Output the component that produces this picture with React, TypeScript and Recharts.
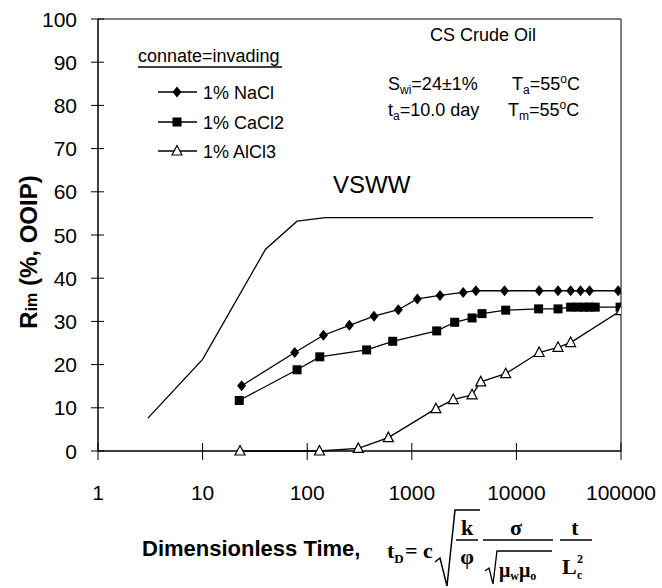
import { LineChart, Line, XAxis, YAxis, ReferenceArea } from "recharts";

const xTicks = [1, 10, 100, 1000, 10000, 100000];
const yTicks = [0, 10, 20, 30, 40, 50, 60, 70, 80, 90, 100];

const vswwTime = [3, 10, 40, 80, 150, 54000];
const vswwRim = [7.6, 21.2, 46.7, 53.2, 54, 54];

const naclTime = [23.6, 76, 143, 253, 435, 743, 1130, 1860, 3100, 4100, 7700, 16500, 25000, 33000, 41000, 50000, 94000];
const naclRim = [15.1, 22.8, 26.8, 29.1, 31.2, 32.7, 35.2, 36.0, 36.7, 37.1, 37.1, 37.1, 37.1, 37.1, 37.1, 37.1, 37.1];

const caclTime = [22.4, 80, 132, 370, 657, 1730, 2570, 3770, 4690, 7900, 16300, 25000, 33000, 38500, 44300, 49800, 56700, 98000];
const caclRim = [11.7, 18.8, 21.8, 23.4, 25.4, 27.8, 29.8, 30.8, 31.8, 32.6, 32.9, 32.9, 33.3, 33.3, 33.3, 33.3, 33.3, 33.3];

const alclTime = [22.8, 131, 308, 597, 1700, 2490, 3770, 4560, 7900, 16500, 25000, 33000, 100000];
const alclRim = [0, 0, 0.6, 3.1, 9.8, 11.9, 13.0, 16.0, 17.9, 22.8, 24.0, 25.1, 32.5];

const zip = (ts: number[], rs: number[]) => ts.map((t, i) => ({ t, r: rs[i] }));

const vsww = zip(vswwTime, vswwRim);
const nacl = zip(naclTime, naclRim);
const cacl = zip(caclTime, caclRim);
const alcl = zip(alclTime, alclRim);

const SANS = "'Liberation Sans', Arial, sans-serif";
const SERIF = "'Liberation Serif', 'Times New Roman', serif";

const Diamond = ({ cx, cy }: any) => (
  <path d={`M${cx},${cy - 5.5}L${cx + 4.5},${cy}L${cx},${cy + 5.5}L${cx - 4.5},${cy}Z`} fill="#000" />
);
const Square = ({ cx, cy }: any) => <rect x={cx - 4.5} y={cy - 4.5} width={9} height={9} fill="#000" />;
const Triangle = ({ cx, cy }: any) => (
  <path d={`M${cx},${cy - 5.5}L${cx + 5},${cy + 4}L${cx - 5},${cy + 4}Z`} fill="#fff" stroke="#000" strokeWidth={1.2} />
);

const XTick = ({ x, y, payload }: any) => (
  <g>
    <line x1={x} x2={x} y1={y - 8} y2={y + 9} stroke="#000" />
    <text x={x} y={y + 49} textAnchor="middle" fontSize={21} fontFamily={SANS} fill="#000">
      {payload.value}
    </text>
  </g>
);

const YTick = ({ x, y, payload }: any) => (
  <g>
    <line x1={x - 7} x2={x + 6} y1={y} y2={y} stroke="#000" />
    <text x={x - 21} y={y + 7.5} textAnchor="end" fontSize={21} fontFamily={SANS} fill="#000">
      {payload.value}
    </text>
  </g>
);

const legendRows = [
  { name: "1% NaCl", y: 92, Shape: Diamond },
  { name: "1% CaCl2", y: 122, Shape: Square },
  { name: "1% AlCl3", y: 151, Shape: Triangle },
];

function Annotations() {
  return (
    <svg width={662} height={588} style={{ position: "absolute", left: 0, top: 0, pointerEvents: "none" }}>
      <g fontFamily={SANS} fill="#000">
        <text x={138} y={62} fontSize={18}>connate=invading</text>
        <line x1={138} x2={282} y1={67} y2={67} stroke="#000" strokeWidth={1.5} />
        {legendRows.map(({ name, y, Shape }) => (
          <g key={name}>
            <line x1={158} x2={197} y1={y} y2={y} stroke="#000" strokeWidth={1.3} />
            <Shape cx={177} cy={y} />
            <text x={203} y={y + 6.5} fontSize={18}>{name}</text>
          </g>
        ))}

        <text x={483} y={41} fontSize={18} textAnchor="middle">CS Crude Oil</text>
        <text x={388} y={90} fontSize={18}>
          S<tspan fontSize={12} dy={4}>wi</tspan><tspan dy={-4}>=24±1%</tspan>
        </text>
        <text x={512} y={90} fontSize={18}>
          T<tspan fontSize={12} dy={4}>a</tspan><tspan dy={-4}>=55</tspan><tspan fontSize={12} dy={-7}>o</tspan><tspan dy={7}>C</tspan>
        </text>
        <text x={388} y={116} fontSize={18}>
          t<tspan fontSize={12} dy={4}>a</tspan><tspan dy={-4}>=10.0 day</tspan>
        </text>
        <text x={508} y={116} fontSize={18}>
          T<tspan fontSize={12} dy={4}>m</tspan><tspan dy={-4}>=55</tspan><tspan fontSize={12} dy={-7}>o</tspan><tspan dy={7}>C</tspan>
        </text>

        <text x={333} y={193} fontSize={24}>VSWW</text>

        <text transform="translate(37,252) rotate(-90)" textAnchor="middle" fontSize={24} fontWeight="bold">
          R<tspan fontSize={16}>im</tspan> (%, OOIP)
        </text>

        <text x={142} y={556} fontSize={22} fontWeight="bold">Dimensionless Time,</text>
      </g>

      <g fontFamily={SERIF} fontWeight="bold" fill="#000">
        <text x={387} y={558} fontSize={22}>
          t<tspan fontSize={13} dy={5}>D</tspan>
        </text>
        <text x={405} y={558} fontSize={22}>=</text>
        <text x={423} y={558} fontSize={22}>c</text>
        <path d="M435,562 L440,558 L447,586 L455,510 L480,510" fill="none" stroke="#000" strokeWidth={1.5} />
        <text x={467} y={535} fontSize={22} textAnchor="middle">k</text>
        <line x1={456} x2={478} y1={540} y2={540} stroke="#000" strokeWidth={1.5} />
        <text x={467} y={564} fontSize={22} textAnchor="middle">φ</text>

        <text x={516} y={535} fontSize={22} textAnchor="middle">σ</text>
        <line x1={483} x2={553} y1={540} y2={540} stroke="#000" strokeWidth={1.5} />
        <path d="M485,571 L489,568 L493,584 L497,551 L552,551" fill="none" stroke="#000" strokeWidth={1.3} />
        <text x={499} y={577} fontSize={20}>
          μ<tspan fontSize={12} dy={3}>w</tspan><tspan dy={-3}>μ</tspan><tspan fontSize={12} dy={3}>o</tspan>
        </text>

        <text x={575} y={535} fontSize={22} textAnchor="middle">t</text>
        <line x1={560} x2={592} y1={540} y2={540} stroke="#000" strokeWidth={1.5} />
        <text x={562} y={574} fontSize={22}>L</text>
        <text x={577} y={579} fontSize={12}>c</text>
        <text x={577} y={563} fontSize={12}>2</text>
      </g>
    </svg>
  );
}

export default function App() {
  return (
    <div style={{ position: "absolute", left: 0, top: 0, width: 662, height: 588, background: "#fff" }}>
      <LineChart width={662} height={588} margin={{ top: 19, right: 41, bottom: 87, left: 0 }}>
        <XAxis
          dataKey="t"
          type="number"
          scale="log"
          domain={[1, 100000]}
          ticks={xTicks}
          allowDataOverflow
          height={50}
          tickSize={0}
          tickMargin={0}
          tick={<XTick />}
          axisLine={{ stroke: "#000" }}
          interval={0}
        />
        <YAxis
          type="number"
          domain={[0, 100]}
          ticks={yTicks}
          width={98}
          tickSize={0}
          tickMargin={0}
          tick={<YTick />}
          axisLine={{ stroke: "#000" }}
          interval={0}
        />
        <ReferenceArea x1={1} x2={100000} y1={0} y2={100} fill="none" stroke="#000" strokeWidth={1} />
        <Line data={vsww} dataKey="r" stroke="#000" strokeWidth={1.3} dot={false} isAnimationActive={false} />
        <Line
          data={nacl}
          dataKey="r"
          stroke="#000"
          strokeWidth={1.3}
          dot={(p: any) => <Diamond key={p.index} cx={p.cx} cy={p.cy} />}
          isAnimationActive={false}
        />
        <Line
          data={cacl}
          dataKey="r"
          stroke="#000"
          strokeWidth={1.3}
          dot={(p: any) => <Square key={p.index} cx={p.cx} cy={p.cy} />}
          isAnimationActive={false}
        />
        <Line
          data={alcl}
          dataKey="r"
          stroke="#000"
          strokeWidth={1.3}
          dot={(p: any) => <Triangle key={p.index} cx={p.cx} cy={p.cy} />}
          isAnimationActive={false}
        />
      </LineChart>
      <Annotations />
    </div>
  );
}
